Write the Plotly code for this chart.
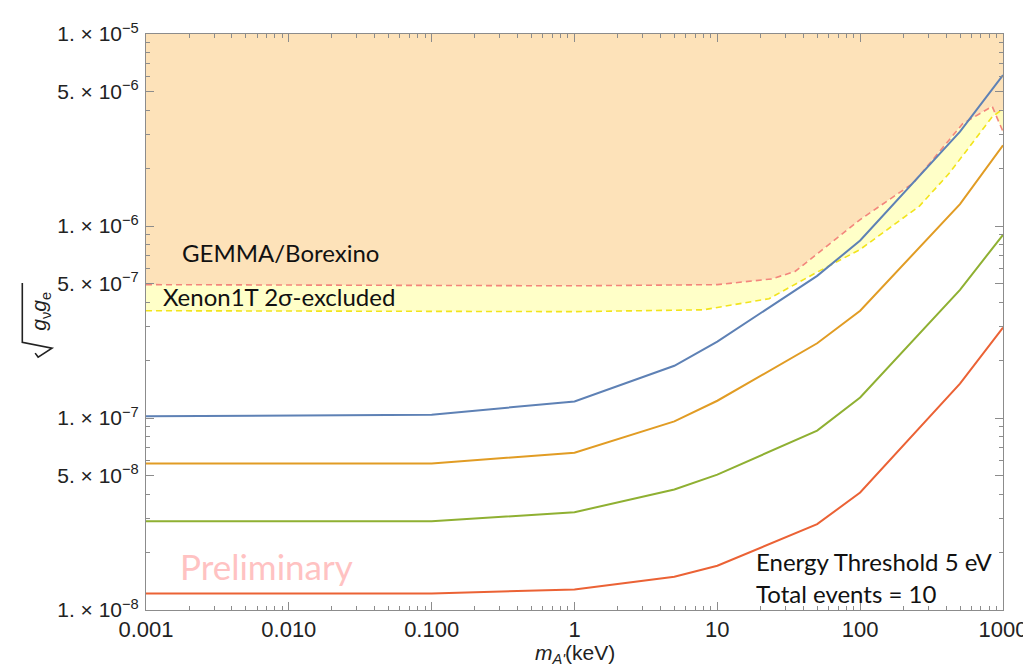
import plotly.graph_objects as go

# ---- data ----
mass = [0.001, 0.1, 1, 5, 10, 50, 100, 500, 1000]
blue_vals = [1.02e-7, 1.04e-7, 1.22e-7, 1.87e-7, 2.5e-7, 5.5e-7, 8.4e-7, 3.1e-6, 6.1e-6]
orange_vals = [5.8e-8, 5.8e-8, 6.6e-8, 9.6e-8, 1.23e-7, 2.45e-7, 3.62e-7, 1.30e-6, 2.63e-6]
green_vals = [2.9e-8, 2.9e-8, 3.23e-8, 4.24e-8, 5.07e-8, 8.6e-8, 1.28e-7, 4.65e-7, 9.0e-7]
red_vals = [1.22e-8, 1.22e-8, 1.28e-8, 1.49e-8, 1.70e-8, 2.80e-8, 4.09e-8, 1.51e-7, 2.96e-7]

gemma_x = [0.001, 0.1, 1, 10, 24, 35, 100, 235, 520, 840, 1000]
gemma_y = [4.95e-7, 4.92e-7, 4.88e-7, 4.95e-7, 5.3e-7, 5.8e-7, 1.08e-6, 1.67e-6, 3.4e-6, 4.2e-6, 3.1e-6]

xenon_x = [0.001, 0.1, 1, 8, 23, 50, 100, 260, 420, 840, 1000]
xenon_y = [3.62e-7, 3.6e-7, 3.58e-7, 3.66e-7, 4.18e-7, 5.75e-7, 7.55e-7, 1.27e-6, 1.88e-6, 3.7e-6, 4.07e-6]

y_top = 1e-5
x_tickvals = [0.001, 0.01, 0.1, 1, 10, 100, 1000]
x_ticktext = ["0.001", "0.010", "0.100", "1", "10", "100", "1000"]
y_tickvals = [1e-8, 5e-8, 1e-7, 5e-7, 1e-6, 5e-6, 1e-5]
y_ticktext = ["1. × 10<sup>−8</sup>", "5. × 10<sup>−8</sup>", "1. × 10<sup>−7</sup>",
              "5. × 10<sup>−7</sup>", "1. × 10<sup>−6</sup>", "5. × 10<sup>−6</sup>",
              "1. × 10<sup>−5</sup>"]

# minor tick positions
x_minor = [m * 10.0 ** e for e in range(-3, 3) for m in range(2, 10)]
y_minor = [m * 10.0 ** e for e in range(-8, -5) for m in range(2, 10) if m != 5]

fig = go.Figure()

# GEMMA/Borexino excluded region (above red dashed)
fig.add_trace(go.Scatter(
    x=gemma_x + [gemma_x[-1], gemma_x[0]],
    y=gemma_y + [y_top, y_top],
    fill="toself", fillcolor="#FDE2B9", line=dict(width=0),
    mode="lines", hoverinfo="skip", showlegend=False))

# Xenon1T band
fig.add_trace(go.Scatter(
    x=xenon_x + gemma_x[::-1],
    y=xenon_y + gemma_y[::-1],
    fill="toself", fillcolor="rgba(255,255,190,0.85)", line=dict(width=0),
    mode="lines", hoverinfo="skip", showlegend=False))

fig.add_trace(go.Scatter(x=gemma_x, y=gemma_y, mode="lines",
                         line=dict(color="#F3867C", width=1.6, dash="6px,4px"),
                         showlegend=False))
fig.add_trace(go.Scatter(x=xenon_x, y=xenon_y, mode="lines",
                         line=dict(color="#F2E41C", width=1.6, dash="6px,4px"),
                         showlegend=False))

for vals, col in [(blue_vals, "#5E81B5"), (orange_vals, "#E19C24"),
                  (green_vals, "#8FB032"), (red_vals, "#EB6235")]:
    fig.add_trace(go.Scatter(x=mass, y=vals, mode="lines",
                             line=dict(color=col, width=2), showlegend=False))

axis_common = dict(
    showgrid=False, zeroline=False, showline=True, linecolor="#8c8c8c",
    linewidth=1, mirror="ticks", ticks="inside", tickcolor="#8c8c8c",
    tickwidth=1,
)

fig.update_xaxes(type="log", range=[-3, 3], tickmode="array",
                 tickvals=x_tickvals, ticktext=x_ticktext, ticklen=8,
                 ticklabelstandoff=0,
                 tickfont=dict(family="Liberation Sans, Arial, sans-serif", size=22, color="#222"),
                 minor=dict(tickmode="array", tickvals=x_minor, ticks="inside",
                            ticklen=4, tickcolor="#8c8c8c"),
                 **axis_common)
fig.update_yaxes(type="log", range=[-8, -5], tickmode="array",
                 tickvals=y_tickvals, ticktext=y_ticktext, ticklen=8,
                 ticklabelstandoff=2,
                 tickfont=dict(family="Liberation Sans, Arial, sans-serif", size=21, color="#222"),
                 minor=dict(tickmode="array", tickvals=y_minor, ticks="inside",
                            ticklen=4, tickcolor="#8c8c8c"),
                 **axis_common)

txt_font = "Lato, Carlito, sans-serif"
anns = [
    dict(text="GEMMA/Borexino", x=0.040, y=0.621, size=24, color="#111"),
    dict(text="Xenon1T 2σ-excluded", x=0.017, y=0.544, size=24, color="#111"),
    dict(text="Preliminary", x=0.037, y=0.077, size=35, color="#FFC2C2"),
    dict(text="Energy Threshold 5 eV", x=0.709, y=0.084, size=24, color="#111"),
    dict(text="Total events = 10", x=0.709, y=0.029, size=24, color="#111"),
]
for a in anns:
    fig.add_annotation(text=a["text"], x=a["x"], y=a["y"], xref="paper", yref="paper",
                       xanchor="left", yanchor="middle", showarrow=False,
                       font=dict(family=txt_font, size=a["size"], color=a["color"]))


def px(xp):
    return (xp - 138) / 866.0


def py(yp):
    return (602 - yp) / 583.0


# x-axis title
fig.add_annotation(text="<i>m</i><sub><i>A'</i></sub>(keV)", x=0.501, y=py(647),
                   xref="paper", yref="paper", showarrow=False,
                   xanchor="center", yanchor="middle",
                   font=dict(family="Liberation Sans, Arial, sans-serif", size=21, color="#222"))

# y-axis title: sqrt(g_nu g_e) -- radicand text rotated plus a drawn radical sign
fig.add_annotation(text="<i>g</i><sub>ν</sub><i>g</i><sub>e</sub>",
                   x=px(31), y=py(300), xref="paper", yref="paper", showarrow=False,
                   xanchor="center", yanchor="middle", textangle=-90,
                   font=dict(family="Liberation Sans, Arial, sans-serif", size=21, color="#222"))
rad = [(13, 271), (13, 331), (43, 337), (29, 346), (26, 342)]
path = "M " + " L ".join(f"{px(a):.5f},{py(b):.5f}" for a, b in rad)
fig.add_shape(type="path", path=path, xref="paper", yref="paper",
              line=dict(color="#222", width=1.6))

fig.update_layout(
    width=1031, height=669,
    margin=dict(l=138, r=27, t=19, b=67),
    paper_bgcolor="white", plot_bgcolor="white",
    showlegend=False,
)

fig.write_html("out.html")
